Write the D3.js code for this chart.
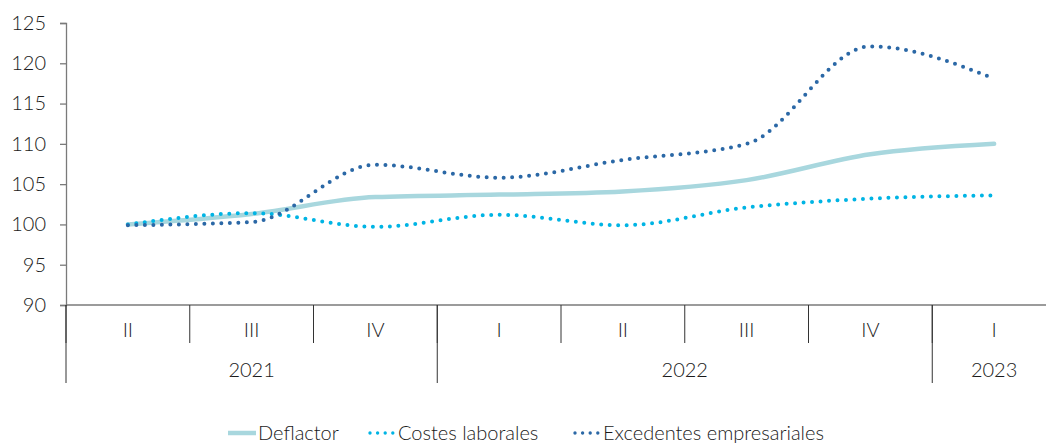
<!DOCTYPE html>
<html>
<head>
<meta charset="utf-8">
<script src="https://cdn.jsdelivr.net/npm/d3@7"></script>
<style>
  body { margin: 0; background: #fff; }
  text { font-family: Lato, "Open Sans", sans-serif; font-weight: 300; fill: #1a1a1a; }
</style>
</head>
<body>
<div id="chart"></div>
<script>
"use strict";

// quarters and the year each group belongs to
var quarters = ["II", "III", "IV", "I", "II", "III", "IV", "I"];
var years = ["2021", "2022", "2023"];
var yearSpans = [3, 4, 1];

var deflactor = [100, 101.3, 103.4, 103.7, 104.1, 105.5, 108.7, 110.0];
var costes = [100, 101.4, 99.7, 101.2, 99.9, 102.1, 103.2, 103.6];
var excedentes = [99.9, 100.3, 107.4, 105.8, 108.0, 110.0, 122.1, 118.1];

var yTicks = [90, 95, 100, 105, 110, 115, 120, 125];

var series = [
    {name: "Deflactor", values: deflactor, color: "#a8d7de", width: 4.5, dash: null},
    {name: "Costes laborales", values: costes, color: "#00b4e4", width: 4, dash: "0 8.5"},
    {name: "Excedentes empresariales", values: excedentes, color: "#2b68a6", width: 4, dash: "0 8.5"}
];

var W = 1046, H = 443;
var plotLeft = 66, plotTop = 23, plotBottom = 305;
var band = 123.75;

var svg = d3.select("#chart").append("svg")
    .attr("width", W)
    .attr("height", H);

var x = d3.scaleBand()
    .domain(d3.range(quarters.length))
    .range([plotLeft, plotLeft + band * quarters.length]);

var y = d3.scaleLinear()
    .domain([90, 125])
    .range([plotBottom, plotTop]);

var axisColor = "#7a7a7a";

// y axis
var yAxis = svg.append("g")
    .attr("transform", "translate(" + plotLeft + ",0)")
    .call(d3.axisLeft(y).tickValues(yTicks).tickSize(6).tickPadding(14));
yAxis.select(".domain").attr("stroke", axisColor).attr("stroke-width", 1.3);
yAxis.selectAll(".tick line").attr("stroke", axisColor).attr("stroke-width", 1.3);
yAxis.selectAll(".tick text")
    .attr("font-size", 20)
    .style("font-family", "Lato, sans-serif")
    .style("font-weight", 300)
    .attr("fill", "#1a1a1a");

// x axis line
svg.append("line")
    .attr("x1", plotLeft).attr("x2", W)
    .attr("y1", plotBottom).attr("y2", plotBottom)
    .attr("stroke", axisColor).attr("stroke-width", 1.3);

// quarter separators
svg.selectAll("line.qtick").data(d3.range(quarters.length)).enter()
    .append("line")
        .attr("class", "qtick")
        .attr("x1", function(d){ return x(d); })
        .attr("x2", function(d){ return x(d); })
        .attr("y1", plotBottom)
        .attr("y2", 343)
        .attr("stroke", "#333")
        .attr("stroke-width", 1);

svg.selectAll("text.qlab").data(quarters).enter()
    .append("text")
        .attr("class", "qlab")
        .attr("x", function(d, i){ return x(i) + x.bandwidth() / 2; })
        .attr("y", 337)
        .attr("text-anchor", "middle")
        .attr("font-size", 20)
        .text(function(d){ return d; });

// year groups
var starts = [0];
yearSpans.forEach(function(s, i){ starts.push(starts[i] + s); });

svg.selectAll("line.ytick").data(starts.slice(0, years.length)).enter()
    .append("line")
        .attr("class", "ytick")
        .attr("x1", function(d){ return x(d); })
        .attr("x2", function(d){ return x(d); })
        .attr("y1", plotBottom)
        .attr("y2", 383)
        .attr("stroke", "#333")
        .attr("stroke-width", 1);

svg.selectAll("text.yearlab").data(years).enter()
    .append("text")
        .attr("class", "yearlab")
        .attr("x", function(d, i){
            var a = x(starts[i]);
            var b = a + band * yearSpans[i];
            return (a + b) / 2;
        })
        .attr("y", 377)
        .attr("text-anchor", "middle")
        .attr("font-size", 20)
        .text(function(d){ return d; });

// lines
var line = d3.line()
    .x(function(d, i){ return x(i) + x.bandwidth() / 2; })
    .y(function(d){ return y(d); })
    .curve(d3.curveMonotoneX);

svg.selectAll("path.series").data(series).enter()
    .append("path")
        .attr("class", "series")
        .attr("d", function(d){ return line(d.values); })
        .attr("fill", "none")
        .attr("stroke", function(d){ return d.color; })
        .attr("stroke-width", function(d){ return d.width; })
        .attr("stroke-dasharray", function(d){ return d.dash; })
        .attr("stroke-linecap", "round");

// legend
var legendX = [228, 368, 573];
var leg = svg.selectAll("g.legend").data(series).enter()
    .append("g")
        .attr("class", "legend")
        .attr("transform", function(d, i){ return "translate(" + legendX[i] + ",433)"; });

leg.append("line")
    .attr("x1", function(d){ return d.dash ? 2 : 0; })
    .attr("x2", function(d){ return d.dash ? 27 : 28; })
    .attr("y1", 0).attr("y2", 0)
    .attr("stroke", function(d){ return d.color; })
    .attr("stroke-width", function(d){ return d.dash ? 3.4 : 4.5; })
    .attr("stroke-dasharray", function(d){ return d.dash ? "0 7.6" : null; })
    .attr("stroke-linecap", function(d){ return d.dash ? "round" : "butt"; });

leg.append("text")
    .attr("x", 30)
    .attr("y", 7)
    .attr("font-size", 20)
    .text(function(d){ return d.name; });
</script>
</body>
</html>
